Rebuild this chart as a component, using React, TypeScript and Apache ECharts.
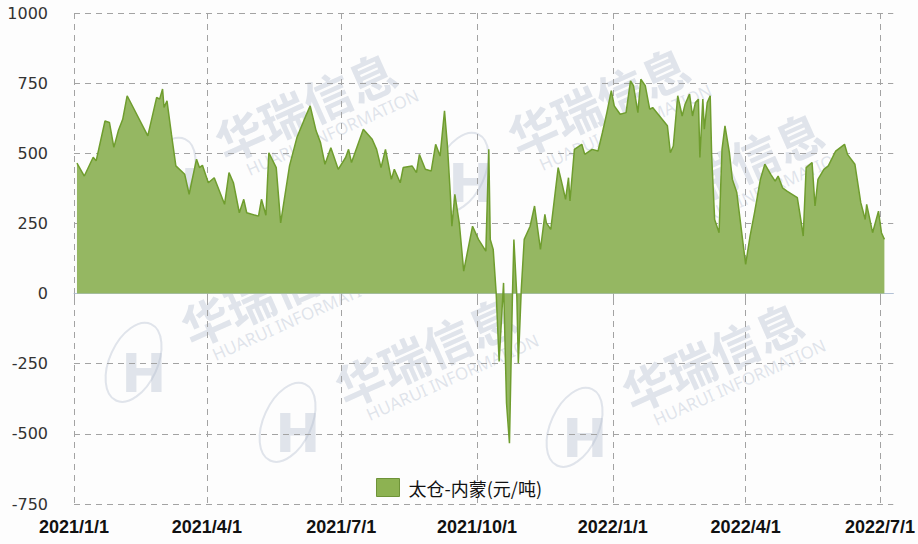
import React, { useEffect, useRef } from 'react';
import * as echarts from 'echarts';

const seriesName = '太仓-内蒙(元/吨)';
const xMin = '2021-01-01';
const xMax = '2022-07-10';

const dates = [
  '2021-01-03','2021-01-08','2021-01-14','2021-01-16','2021-01-22','2021-01-25','2021-01-28','2021-01-31',
  '2021-02-03','2021-02-06','2021-02-20','2021-02-26','2021-02-28','2021-03-02','2021-03-03','2021-03-05',
  '2021-03-08','2021-03-11','2021-03-17','2021-03-20','2021-03-25','2021-03-27','2021-03-29','2021-04-02',
  '2021-04-06','2021-04-13','2021-04-16','2021-04-19','2021-04-23','2021-04-26','2021-04-28','2021-05-06',
  '2021-05-08','2021-05-11','2021-05-13','2021-05-18','2021-05-21','2021-05-27','2021-06-01','2021-06-07',
  '2021-06-10','2021-06-14','2021-06-17','2021-06-20','2021-06-24','2021-06-29','2021-07-04','2021-07-06',
  '2021-07-08','2021-07-16','2021-07-22','2021-07-25','2021-07-28','2021-07-31','2021-08-04','2021-08-06',
  '2021-08-10','2021-08-12','2021-08-18','2021-08-21','2021-08-23','2021-08-27','2021-08-31','2021-09-03',
  '2021-09-06','2021-09-09','2021-09-11','2021-09-13','2021-09-14','2021-09-16','2021-09-19','2021-09-22',
  '2021-09-26','2021-09-28','2021-10-02','2021-10-07','2021-10-09','2021-10-10','2021-10-12','2021-10-14',
  '2021-10-16','2021-10-19','2021-10-21','2021-10-23','2021-10-25','2021-10-26','2021-10-28','2021-10-29',
  '2021-10-31','2021-11-02','2021-11-06','2021-11-09','2021-11-13','2021-11-16','2021-11-17','2021-11-20',
  '2021-11-25','2021-11-28','2021-11-30','2021-12-02','2021-12-03','2021-12-06','2021-12-11','2021-12-13',
  '2021-12-18','2021-12-22','2021-12-25','2021-12-28','2021-12-31','2022-01-02','2022-01-06','2022-01-10',
  '2022-01-13','2022-01-15','2022-01-18','2022-01-20','2022-01-23','2022-01-26','2022-01-28','2022-02-07',
  '2022-02-09','2022-02-11','2022-02-14','2022-02-17','2022-02-19','2022-02-22','2022-02-24','2022-02-26',
  '2022-02-28','2022-03-01','2022-03-03','2022-03-04','2022-03-06','2022-03-08','2022-03-09','2022-03-11',
  '2022-03-14','2022-03-16','2022-03-18','2022-03-21','2022-03-23','2022-03-26','2022-04-01','2022-04-04',
  '2022-04-07','2022-04-11','2022-04-14','2022-04-18','2022-04-21','2022-04-23','2022-04-26','2022-04-29',
  '2022-05-06','2022-05-08','2022-05-10','2022-05-12','2022-05-16','2022-05-18','2022-05-20','2022-05-24',
  '2022-05-27','2022-06-01','2022-06-07','2022-06-09','2022-06-14','2022-06-18','2022-06-21','2022-06-22',
  '2022-06-26','2022-06-30','2022-07-02','2022-07-04'
];

const values = [
  465, 419, 486, 473, 615, 610, 521, 580,
  621, 705, 562, 699, 693, 729, 663, 687,
  568, 455, 425, 354, 479, 449, 457, 395,
  413, 318, 431, 395, 288, 336, 288, 276,
  336, 279, 502, 449, 252, 455, 556, 633,
  669, 580, 538, 461, 520, 443, 485, 514,
  467, 586, 550, 514, 449, 514, 407, 443,
  395, 449, 455, 431, 496, 443, 437, 532,
  490, 651, 526, 348, 240, 354, 252, 80,
  187, 240, 193, 151, 514, 193, 157, 2,
  -242, 38, -390, -533, -10, 193, -10, -248,
  14, 193, 240, 312, 157, 282, 252, 229,
  449, 383, 336, 413, 330, 514, 532, 496,
  514, 508, 574, 645, 723, 669, 639, 645,
  758, 741, 645, 764, 741, 657, 663, 598,
  502, 526, 705, 633, 675, 711, 633, 681,
  693, 485, 693, 586, 681, 705, 490, 264,
  217, 514, 598, 502, 407, 360, 104, 205,
  288, 407, 461, 425, 401, 419, 377, 365,
  342, 276, 205, 449, 467, 312, 407, 443,
  455, 508, 532, 496, 461, 324, 264, 318,
  217, 294, 217, 193
];

const watermarkTitle = '华瑞信息';
const watermarkSub = 'HUARUI INFORMATION';
const watermarkCenters = [
  [305, 105], [598, 100], [732, 165], [271, 290], [425, 350], [712, 355]
];

const DAY = 24 * 3600 * 1000;

function makeWatermark(cx: number, cy: number) {
  const fill = 'rgba(175,186,204,0.38)';
  return {
    type: 'group',
    x: cx,
    y: cy,
    rotation: 0.42,
    silent: true,
    z: 100,
    children: [
      {
        type: 'text',
        x: 0,
        y: 0,
        style: {
          text: watermarkTitle,
          fill,
          font: 'bold 48px "Noto Sans CJK SC"',
          align: 'center',
          verticalAlign: 'middle',
          letterSpacing: 10,
        },
      },
      {
        type: 'text',
        x: 14,
        y: 36,
        style: {
          text: watermarkSub,
          fill,
          font: '17px "Noto Sans"',
          align: 'center',
          verticalAlign: 'middle',
          letterSpacing: 2,
        },
      },
      {
        type: 'ellipse',
        x: -155,
        y: 10,
        rotation: -0.85,
        shape: { cx: 0, cy: 0, rx: 24, ry: 42 },
        style: { fill: 'none', stroke: fill, lineWidth: 2 },
      },
      {
        type: 'text',
        x: -150,
        y: 24,
        rotation: -0.42,
        style: {
          text: 'H',
          fill,
          font: 'bold 54px "DejaVu Sans"',
          align: 'center',
          verticalAlign: 'middle',
        },
      },
    ],
  };
}

export default function App() {
  const ref = useRef<HTMLDivElement>(null);

  useEffect(() => {
    if (!ref.current) return;
    const chart = echarts.init(ref.current, null, { renderer: 'svg' });
    const data = dates.map((d, i) => [d, values[i]]);
    const dashed = { color: '#a3a3a3', type: [6, 5] as any, width: 1 };

    chart.setOption({
      animation: false,
      backgroundColor: '#fdfdfd',
      grid: { left: 74, right: 21, top: 13, bottom: 40 },
      legend: {
        data: [seriesName],
        left: 371,
        top: 473,
        icon: 'rect',
        itemWidth: 23,
        itemHeight: 18,
        itemStyle: { color: '#8db252', borderColor: '#6e9338', borderWidth: 1 },
        textStyle: {
          fontSize: 18,
          fontFamily: '"Noto Sans CJK SC", sans-serif',
          color: '#111',
          padding: [0, 0, 0, 4],
        },
      },
      xAxis: {
        type: 'time',
        min: xMin,
        max: xMax,
        minInterval: 80 * DAY,
        maxInterval: 100 * DAY,
        axisLine: { show: true, lineStyle: { color: '#b3c2d6', width: 1 } },
        axisTick: { show: true, length: 6, lineStyle: { color: '#a3a3a3' } },
        splitLine: { show: true, showMaxLine: false, lineStyle: dashed },
        axisLabel: {
          showMaxLabel: false,
          showMinLabel: true,
          margin: 14,
          color: '#111',
          fontSize: 18,
          fontWeight: 'bold',
          fontFamily: '"Liberation Sans", sans-serif',
          formatter: (val: number) => {
            const d = new Date(val);
            return `${d.getFullYear()}/${d.getMonth() + 1}/${d.getDate()}`;
          },
        },
      },
      yAxis: {
        type: 'value',
        min: -750,
        max: 1000,
        interval: 250,
        axisLine: { show: false },
        axisTick: { show: false },
        splitLine: { show: true, lineStyle: dashed },
        axisLabel: {
          margin: 26,
          color: '#333',
          fontSize: 16,
          fontFamily: '"DejaVu Sans", sans-serif',
          formatter: (v: number) => String(v),
        },
      },
      series: [
        {
          name: seriesName,
          type: 'line',
          data,
          showSymbol: false,
          symbol: 'none',
          itemStyle: { color: '#8db252' },
          lineStyle: { color: '#6f9d2e', width: 1.5 },
          areaStyle: { color: '#95b762', opacity: 1 },
          z: 2,
        },
      ],
      graphic: watermarkCenters.map(([x, y]) => makeWatermark(x, y)),
    });

    return () => chart.dispose();
  }, []);

  return (
    <div
      ref={ref}
      style={{ position: 'fixed', left: 0, top: 0, width: 918, height: 544 }}
    />
  );
}
